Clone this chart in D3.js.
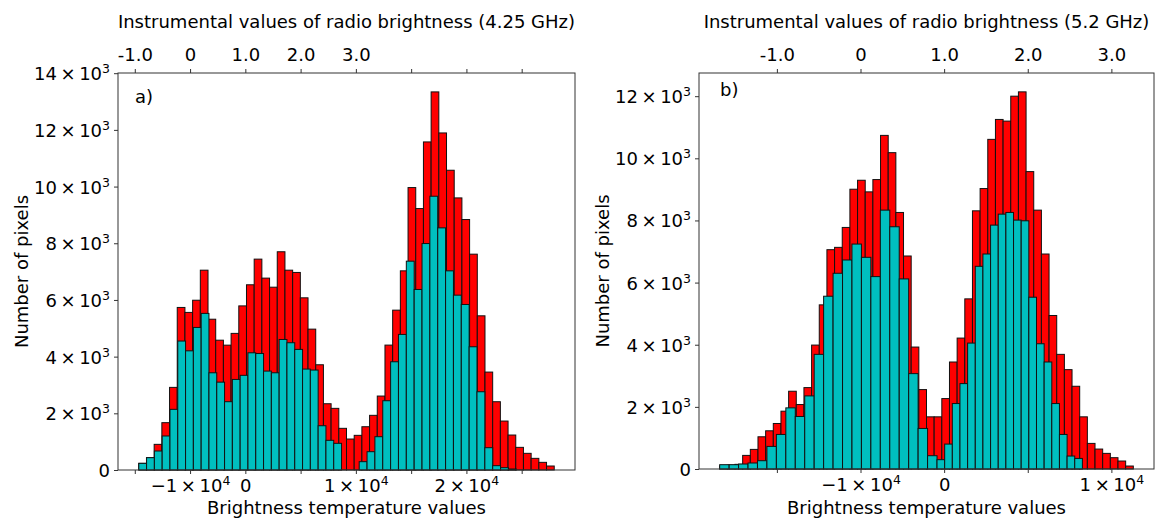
<!DOCTYPE html>
<html>
<head>
<meta charset="utf-8">
<script src="https://cdn.jsdelivr.net/npm/d3@7"></script>
<style>
    body { margin: 0; background: #ffffff; }
    svg text { font-family: "DejaVu Sans", sans-serif; fill: #000000; }
</style>
</head>
<body>
<div id="canvas"></div>
<script>
"use strict"

// PANEL A DATA (4.25 GHz) - counts per bin, bins given in instrumental units

let redA = [235, 435, 905, 1670, 2915, 5735, 5560, 5990, 7050, 5320,
    4580, 4405, 4820, 5790, 6535, 7440, 6770, 6450, 7700, 7050,
    6970, 6075, 4970, 3713, 2338, 2175, 1470, 1093, 1223, 1527,
    1929, 2609, 4407, 5640, 7027, 9965, 9224, 11575, 13340, 11892,
    10576, 9600, 8837, 7615, 5440, 3455, 2409, 1727, 1234, 799,
    588, 411, 270, 141];
let redAStart = -0.928;
let redABin = 0.1392;

let cyanA1 = [235, 435, 670, 1200, 2140, 4550, 4205, 5030, 5525, 3430,
    3100, 2410, 3195, 3340, 4135, 4110, 3490, 3430, 4605, 4490,
    4255, 3561, 3526, 1562, 1047, 941];
let cyanA1Start = -0.928;
let cyanA1Bin = 0.1411;

let cyanA2 = [294, 646, 1175, 2444, 3819, 4783, 7368, 6369, 7990, 9659,
    8543, 7027, 6169, 5840, 4348, 2761, 787, 153, 82, 35];
let cyanA2Start = 3.060;
let cyanA2Bin = 0.1421;

// PANEL B DATA (5.2 GHz)

let redB = [100, 120, 150, 438, 631, 1037, 1230, 1465, 1861, 2503,
    2075, 2620, 3989, 5283, 7059, 7134, 7775, 9005, 9294, 8920,
    9316, 10738, 10182, 8257, 6856, 3925, 2556, 1679, 1679, 2267,
    3444, 4214, 5476, 8310, 9027, 10610, 11251, 11198, 12000, 12139,
    9572, 8332, 6920, 4941, 3690, 3198, 2663, 1679, 824, 642,
    503, 364, 257, 96];
let redBStart = -1.684;
let redBBin = 0.0916;

let cyanB1 = [139, 139, 160, 193, 267, 727, 1112, 1968, 1690, 2353,
    3690, 5561, 6300, 6727, 7240, 6813, 6193, 8332, 7797, 6118,
    3070, 1305, 428];
let cyanB1Start = -1.684;
let cyanB1Bin = 0.113;

let cyanB2 = [300, 802, 2107, 2749, 4053, 6524, 6920, 7850, 8203, 8257,
    8011, 7989, 5529, 4032, 3444, 2107, 1112, 417, 340];
let cyanB2Start = 0.915;
let cyanB2Bin = 0.0915;

// TICKS AND LABELS ("^" marks the superscript part)

let ticksA = [-1, 0, 1, 2, 3, 4, 5, 6];
let topLabelsA = ["-1.0", "0", "1.0", "2.0", "3.0", "", "", ""];
let bottomLabelsA = ["", "\u22121\u2009\u00d7\u200910^4", "0", "", "1\u2009\u00d7\u200910^4", "", "2\u2009\u00d7\u200910^4", ""];
let yTicksA = [0, 2000, 4000, 6000, 8000, 10000, 12000, 14000];

let ticksB = [-1, 0, 1, 2, 3];
let topLabelsB = ["-1.0", "0", "1.0", "2.0", "3.0"];
let bottomLabelsB = ["", "\u22121\u2009\u00d7\u200910^4", "0", "", "1\u2009\u00d7\u200910^4"];
let yTicksB = [0, 2000, 4000, 6000, 8000, 10000, 12000];

let xTitle = "Brightness temperature values";
let yTitle = "Number of pixels";
let topTitle = "Instrumental values of radio brightness";


// CANVAS SETUP

let svgWidth = 1160;
let svgHeight = 518;

let svg = d3.select("#canvas")
    .append("svg")
    .attr("width", svgWidth)
    .attr("height", svgHeight);

let edgeColor = "#111111";
let spineColor = "#333333";


// writes a label into a text element, the part after "^" goes up as a superscript
function setLabel(text, label) {
    let parts = label.split("^");
    text.text(parts[0]);
    if (parts.length > 1) {
        text.append("tspan")
            .attr("dy", "-7px")
            .style("font-size", "12.5px")
            .text(parts[1]);
    }
}

function yLabel(value) {
    if (value == 0) {
        return "0";
    }
    return (value / 1000) + "\u2009\u00d7\u200910^3";
}

// one histogram as rects, bin i covers [start + i*bin, start + (i+1)*bin]
function drawBars(g, xScale, yScale, counts, start, bin, color) {
    g.append("g")
        .selectAll("rect")
        .data(counts)
        .join("rect")
        .attr("x", function (d, i) {
            return xScale(start + i * bin);
        })
        .attr("width", function (d, i) {
            return xScale(start + (i + 1) * bin) - xScale(start + i * bin);
        })
        .attr("y", function (d) {
            return yScale(d);
        })
        .attr("height", function (d) {
            return yScale(0) - yScale(d);
        })
        .attr("fill", color)
        .attr("stroke", edgeColor)
        .attr("stroke-width", 1);
}

function styleAxis(axisG) {
    axisG.attr("font-family", null).attr("font-size", null);
    axisG.select(".domain").remove();
    axisG.selectAll(".tick line").attr("stroke", spineColor).attr("stroke-width", 1);
    axisG.selectAll(".tick text").style("font-size", "18px");
}

function drawPanel(p) {
    let g = svg.append("g");

    // x limits like matplotlib: data range of the red histogram plus 5% each side
    let lo = p.redStart;
    let hi = p.redStart + p.red.length * p.redBin;
    let pad = (hi - lo) * 0.05;

    let xScale = d3.scaleLinear()
        .domain([lo - pad, hi + pad])
        .range([p.left, p.right]);

    let yScale = d3.scaleLinear()
        .domain([0, d3.max(p.red) * 1.05])
        .range([p.bottom, p.top]);

    // red first, the cyan subset on top
    drawBars(g, xScale, yScale, p.red, p.redStart, p.redBin, "#ff0000");
    for (let i = 0; i < p.cyan.length; i++) {
        drawBars(g, xScale, yScale, p.cyan[i], p.cyanStart[i], p.cyanBin[i], "#00bfbf");
    }

    // frame
    g.append("rect")
        .attr("x", p.left)
        .attr("y", p.top)
        .attr("width", p.right - p.left)
        .attr("height", p.bottom - p.top)
        .attr("fill", "none")
        .attr("stroke", spineColor)
        .attr("stroke-width", 1);

    // bottom axis
    let bottomG = g.append("g")
        .attr("transform", "translate(0," + p.bottom + ")")
        .call(d3.axisBottom(xScale).tickValues(p.ticks).tickSize(4).tickFormat(""));
    styleAxis(bottomG);
    bottomG.selectAll(".tick text")
        .attr("y", 22)
        .attr("dy", null)
        .each(function (d, i) {
            setLabel(d3.select(this), p.bottomLabels[i]);
        });

    // top axis (instrumental values)
    let topG = g.append("g")
        .attr("transform", "translate(0," + p.top + ")")
        .call(d3.axisTop(xScale).tickValues(p.ticks).tickSize(4).tickFormat(""));
    styleAxis(topG);
    topG.selectAll(".tick text")
        .attr("y", -12)
        .attr("dy", null)
        .each(function (d, i) {
            setLabel(d3.select(this), p.topLabels[i]);
        });

    // left axis
    let leftG = g.append("g")
        .attr("transform", "translate(" + p.left + ",0)")
        .call(d3.axisLeft(yScale).tickValues(p.yTicks).tickSize(4).tickFormat(""));
    styleAxis(leftG);
    leftG.selectAll(".tick text")
        .attr("x", -8)
        .attr("dy", "0.36em")
        .each(function (d) {
            setLabel(d3.select(this), yLabel(d));
        });

    /**** axis titles ****/
    g.append("text")
        .attr("x", (p.left + p.right) / 2)
        .attr("y", 514)
        .style("text-anchor", "middle")
        .style("font-size", "18px")
        .text(xTitle);

    g.append("text")
        .attr("x", (p.left + p.right) / 2)
        .attr("y", 28)
        .style("text-anchor", "middle")
        .style("font-size", "18px")
        .text(topTitle + " (" + p.freq + ")");

    g.append("text")
        .attr("transform", "translate(" + (p.left - 90) + "," + ((p.top + p.bottom) / 2) + ") rotate(-90)")
        .style("text-anchor", "middle")
        .style("font-size", "18px")
        .text(yTitle);

    // panel letter
    g.append("text")
        .attr("x", p.left + p.letterDx)
        .attr("y", p.top + p.letterDy)
        .style("font-size", "18px")
        .text(p.letter);
}

drawPanel({
    left: 118, right: 575, top: 73, bottom: 470,
    red: redA, redStart: redAStart, redBin: redABin,
    cyan: [cyanA1, cyanA2], cyanStart: [cyanA1Start, cyanA2Start], cyanBin: [cyanA1Bin, cyanA2Bin],
    ticks: ticksA, topLabels: topLabelsA, bottomLabels: bottomLabelsA, yTicks: yTicksA,
    freq: "4.25 GHz", letter: "a)", letterDx: 17, letterDy: 30
});

drawPanel({
    left: 699, right: 1154, top: 73, bottom: 469,
    red: redB, redStart: redBStart, redBin: redBBin,
    cyan: [cyanB1, cyanB2], cyanStart: [cyanB1Start, cyanB2Start], cyanBin: [cyanB1Bin, cyanB2Bin],
    ticks: ticksB, topLabels: topLabelsB, bottomLabels: bottomLabelsB, yTicks: yTicksB,
    freq: "5.2 GHz", letter: "b)", letterDx: 21, letterDy: 23
});
</script>
</body>
</html>
